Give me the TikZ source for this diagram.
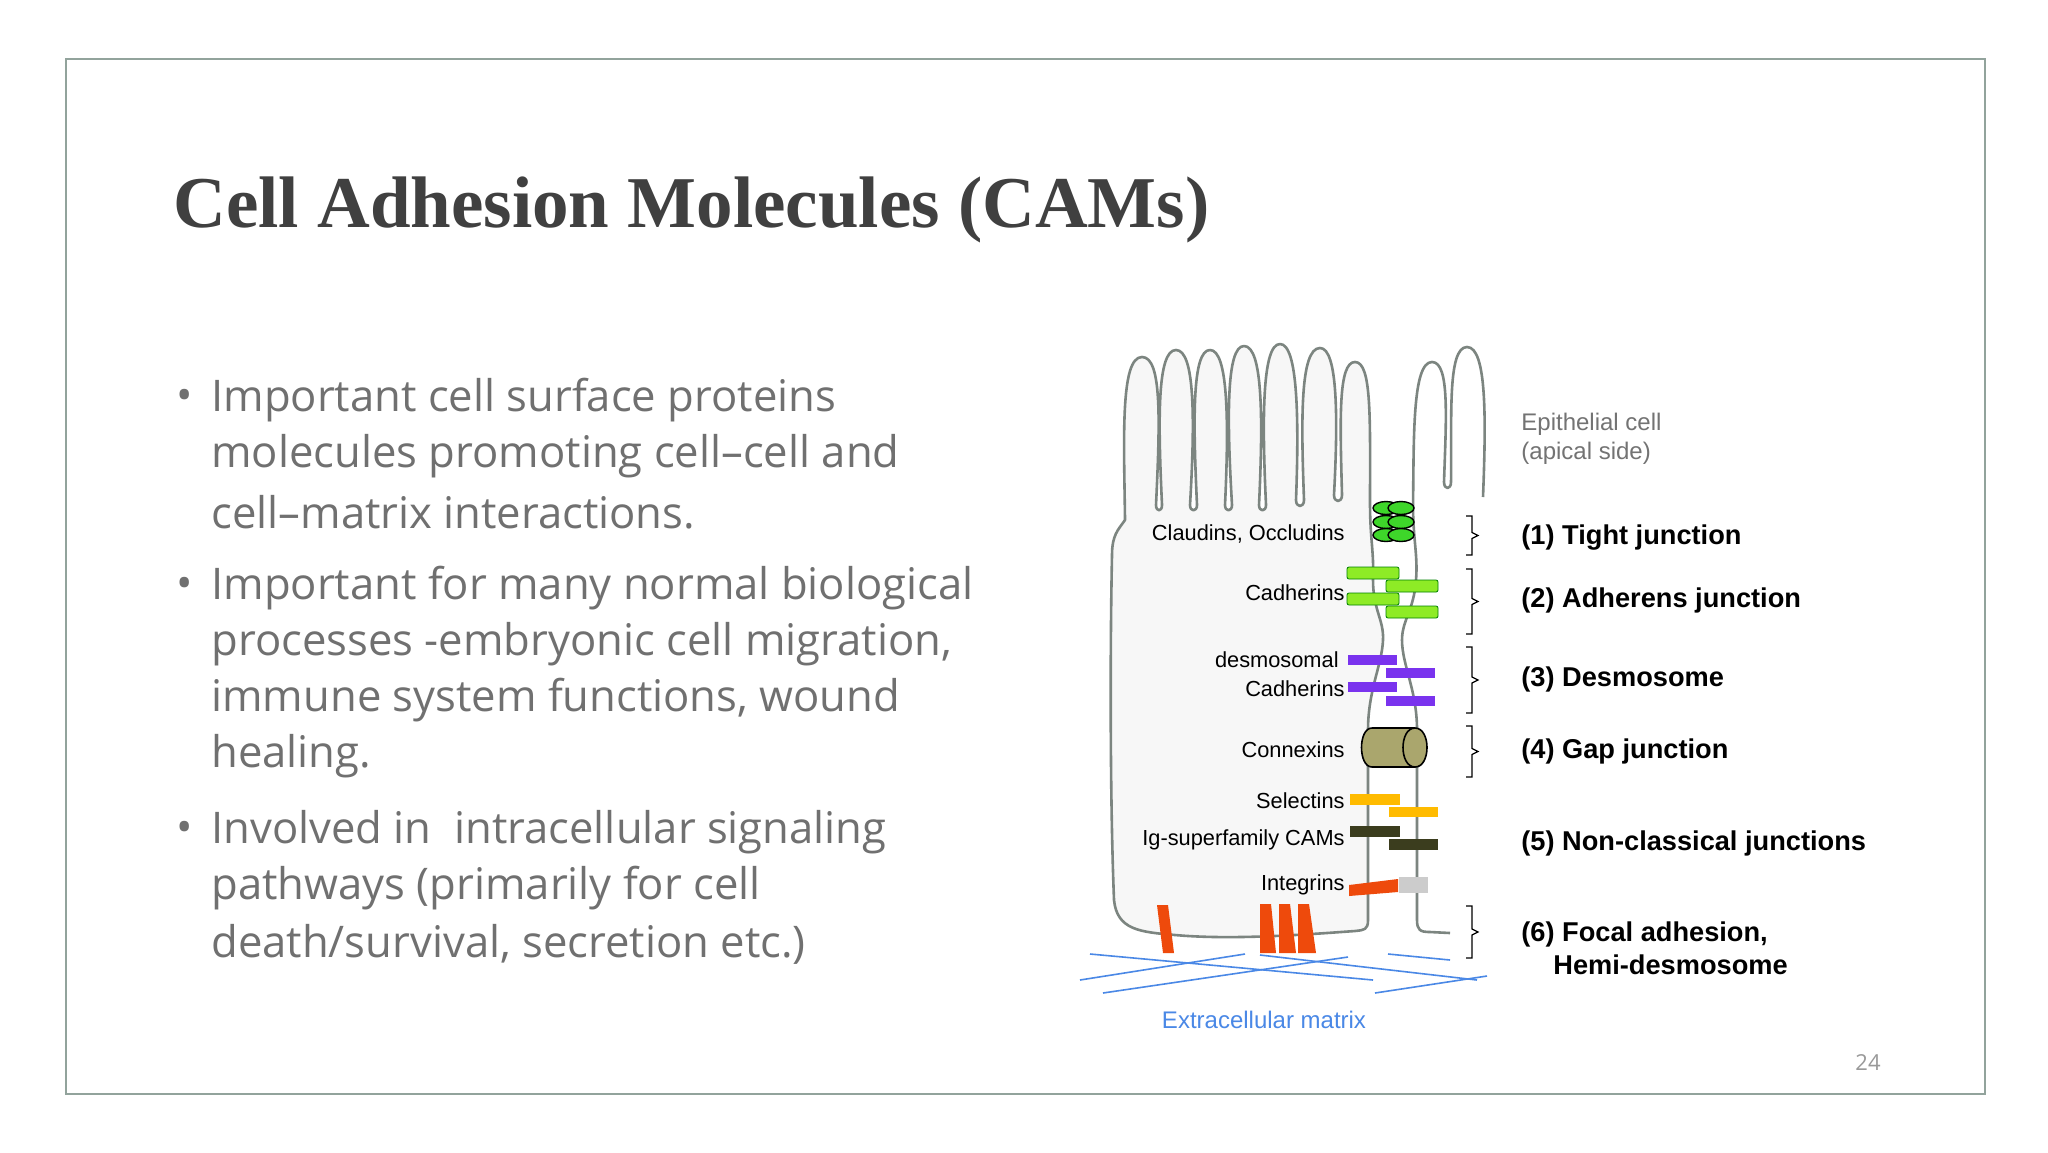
\documentclass[tikz,border=0pt]{standalone}
\usepackage{fontspec}
\setmainfont{Liberation Sans}
\newfontfamily\titlefont{Liberation Serif}
\newfontfamily\bulletfont{Open Sans}
\begin{document}
\begin{tikzpicture}[x=0.5pt,y=-0.5pt,
  mem/.style={draw=memc,line width=1.3pt,line join=round},
  lab/.style={anchor=east,inner sep=0pt,font=\fontsize{10.9}{12}\selectfont},
  jun/.style={anchor=west,inner sep=0pt,font=\bfseries\fontsize{13.6}{15}\selectfont},
  bul/.style={anchor=west,inner sep=0pt,text=bulc,font=\bulletfont\fontsize{21.8}{24}\selectfont},
  brace/.style={draw=black,line width=0.6pt},
  bar/.style={line width=0.4pt},
  ecm/.style={draw=ecmc,line width=0.8pt}]
\definecolor{memc}{HTML}{7C8580}
\definecolor{bulc}{HTML}{707070}
\definecolor{ecmc}{HTML}{4A88E6}
\definecolor{framec}{HTML}{92A39C}
\useasboundingbox (0,0) rectangle (2048,1152);
\fill[white] (0,0) rectangle (2048,1152);
\draw[framec,line width=1pt] (66,59) rectangle (1985,1094);
\node[anchor=west,inner sep=0pt,text=black!75,font=\titlefont\bfseries\fontsize{36.5}{40}\selectfont] (title) at (173,210) {Cell Adhesion Molecules (CAMs)};
% bullets
\foreach \y in {400,588,832} \node[bul] at (176,\y) {•};
\node[bul] (b1a) at (211,400) {Important cell surface proteins};
\node[bul] (b1b) at (211,456) {molecules promoting cell–cell and};
\node[bul] (b1c) at (211,512) {cell–matrix interactions.};
\node[bul] (b2a) at (211,588) {Important for many normal biological};
\node[bul] (b2b) at (211,644) {processes -embryonic cell migration,};
\node[bul] (b2c) at (211,700) {immune system functions, wound};
\node[bul] (b2d) at (211,756) {healing.};
\node[bul] (b3a) at (211,832) {Involved in\ \ intracellular signaling};
\node[bul] (b3b) at (211,888) {pathways (primarily for cell};
\node[bul] (b3c) at (211,944) {death/survival, secretion etc.)};
% left cell
\path[mem,fill=black!3] (1125,520)
  .. controls (1124,440) and (1120,357) .. (1142,357)
  .. controls (1162,357) and (1160,420) .. (1156,505)
  .. controls (1156,512) and (1162,512) .. (1162,505)
  .. controls (1158,420) and (1157,350) .. (1176,350)
  .. controls (1195,350) and (1195,420) .. (1190,505)
  .. controls (1190,512) and (1197,512) .. (1197,505)
  .. controls (1193,420) and (1192,350) .. (1210,350)
  .. controls (1228,350) and (1229,420) .. (1225,505)
  .. controls (1225,512) and (1232,512) .. (1232,505)
  .. controls (1227,420) and (1226,346) .. (1244,346)
  .. controls (1263,346) and (1263,420) .. (1259,505)
  .. controls (1259,512) and (1266,512) .. (1266,505)
  .. controls (1262,420) and (1262,344) .. (1280,344)
  .. controls (1298,344) and (1299,420) .. (1296,500)
  .. controls (1296,508) and (1304,508) .. (1304,500)
  .. controls (1301,420) and (1300,348) .. (1320,348)
  .. controls (1338,348) and (1338,420) .. (1334,495)
  .. controls (1334,503) and (1342,503) .. (1342,495)
  .. controls (1340,420) and (1338,362) .. (1355,362)
  .. controls (1372,362) and (1370,420) .. (1370,503)
  .. controls (1370,540) and (1374,550) .. (1373,580)
  .. controls (1373,610) and (1384,620) .. (1383,640)
  .. controls (1382,665) and (1368,690) .. (1368,730)
  -- (1368,920) .. controls (1368,930) and (1364,930) .. (1355,931)
  .. controls (1300,935) and (1230,940) .. (1175,935)
  .. controls (1140,932) and (1117,930) .. (1114,900)
  .. controls (1110,800) and (1110,650) .. (1112,555)
  .. controls (1112,535) and (1118,530) .. (1125,520) -- cycle;
% right cell (open)
\draw[mem] (1483,497)
  .. controls (1486,420) and (1487,347) .. (1467,347)
  .. controls (1447,347) and (1452,420) .. (1451,482)
  .. controls (1451,490) and (1444,490) .. (1444,482)
  .. controls (1446,420) and (1450,362) .. (1432,362)
  .. controls (1412,362) and (1414,440) .. (1413,505)
  .. controls (1413,540) and (1418,555) .. (1416,580)
  .. controls (1414,610) and (1402,620) .. (1402,640)
  .. controls (1402,665) and (1417,690) .. (1417,730)
  -- (1417,920) .. controls (1417,930) and (1420,932) .. (1430,932) -- (1450,933);
% tight junction
\definecolor{tjg}{HTML}{3ED62A}
\foreach \yy in {508,522,535} {
  \draw[fill=tjg,line width=0.7pt] (1386,\yy) ellipse [x radius=13,y radius=6.5];}
\foreach \yy in {508,522,535} {
  \draw[fill=tjg,line width=0.7pt] (1401,\yy) ellipse [x radius=13,y radius=6.5];}
% adherens
\definecolor{cadg}{HTML}{8EEB26}
\foreach \xa/\ya in {1347/567,1386/580,1347/593,1386/606}
  \draw[bar,fill=cadg,draw=green!50!black,rounded corners=1pt] (\xa,\ya) rectangle ++(52,12);
% desmosome
\definecolor{desp}{HTML}{7A33EE}
\foreach \xa/\ya in {1348/655,1386/668,1348/682,1386/696}
  \fill[desp] (\xa,\ya) rectangle ++(49,10);
% connexin
\draw[line width=0.8pt,fill=olive!45!white!80!black] (1372,728) .. controls (1358,728) and (1358,767) .. (1372,767) -- (1415,767) .. controls (1431,767) and (1431,728) .. (1415,728) -- cycle;
\draw[line width=0.8pt] (1415,728) .. controls (1399,728) and (1399,767) .. (1415,767);
% selectins, Ig
\definecolor{selc}{HTML}{FFBB00}
\definecolor{igc}{HTML}{3B3D1E}
\fill[selc] (1350,794) rectangle (1400,805);
\fill[selc] (1389,807) rectangle (1438,817);
\fill[igc] (1350,826) rectangle (1400,837);
\fill[igc] (1389,839) rectangle (1438,850);
% integrins
\definecolor{intc}{HTML}{EE4A0C}
\fill[black!20] (1399,877) rectangle (1428,893);
\fill[intc] (1349,885) -- (1398,879) -- (1398,892) -- (1349,896) -- cycle;
\fill[intc] (1157,905) -- (1168,905) -- (1174,953) -- (1163,953) -- cycle;
\fill[intc] (1260,904) -- (1271,904) -- (1276,953) -- (1260,953) -- cycle;
\fill[intc] (1279,904) -- (1290,904) -- (1296,953) -- (1279,953) -- cycle;
\fill[intc] (1298,904) -- (1309,904) -- (1316,953) -- (1298,953) -- cycle;
% ECM
\draw[ecm] (1090,954) -- (1373,980);
\draw[ecm] (1080,980) -- (1245,954);
\draw[ecm] (1103,993) -- (1348,957);
\draw[ecm] (1260,955) -- (1477,980);
\draw[ecm] (1388,954) -- (1450,960);
\draw[ecm] (1375,993) -- (1487,976);
% braces
\foreach \ya/\yb in {516/555,569/634,647/713,726/777,906/958}
  \draw[brace] (1466,\ya) -- (1472,\ya) -- (1472,{(\ya+\yb)/2-3}) -- (1478,{(\ya+\yb)/2}) -- (1472,{(\ya+\yb)/2+3}) -- (1472,\yb) -- (1466,\yb);
% left labels
\node[lab] (l1) at (1345,534) {Claudins, Occludins};
\node[lab] (l2) at (1345,593) {Cadherins};
\node[lab] (l3a) at (1339,660) {desmosomal};
\node[lab] (l3b) at (1345,689) {Cadherins};
\node[lab] (l4) at (1345,750) {Connexins};
\node[lab] (l5) at (1345,801) {Selectins};
\node[lab] (l6) at (1345,840) {Ig-superfamily CAMs};
\node[lab] (l7) at (1345,885) {Integrins};
\node[lab,anchor=center,text=ecmc,font=\fontsize{12}{14}\selectfont] (ecm) at (1264,1020) {Extracellular matrix};
% right labels
\node[lab,anchor=west,text=black!55,font=\fontsize{12}{14}\selectfont] (ep1) at (1521,424) {Epithelial cell};
\node[lab,anchor=west,text=black!55,font=\fontsize{12}{14}\selectfont] (ep2) at (1521,453) {(apical side)};
\node[jun] (j1) at (1521,538) {(1) Tight junction};
\node[jun] (j2) at (1521,600) {(2) Adherens junction};
\node[jun] (j3) at (1521,679) {(3) Desmosome};
\node[jun] (j4) at (1521,751) {(4) Gap junction};
\node[jun] (j5) at (1521,843) {(5) Non-classical junctions};
\node[jun] (j6) at (1521,934) {(6) Focal adhesion,};
\node[jun] (j6b) at (1553,965) {Hemi-desmosome};
\node[anchor=center,inner sep=0pt,text=black!40,font=\bulletfont\fontsize{11}{12}\selectfont] (pg) at (1868,1063) {24};
\end{tikzpicture}
\end{document}
